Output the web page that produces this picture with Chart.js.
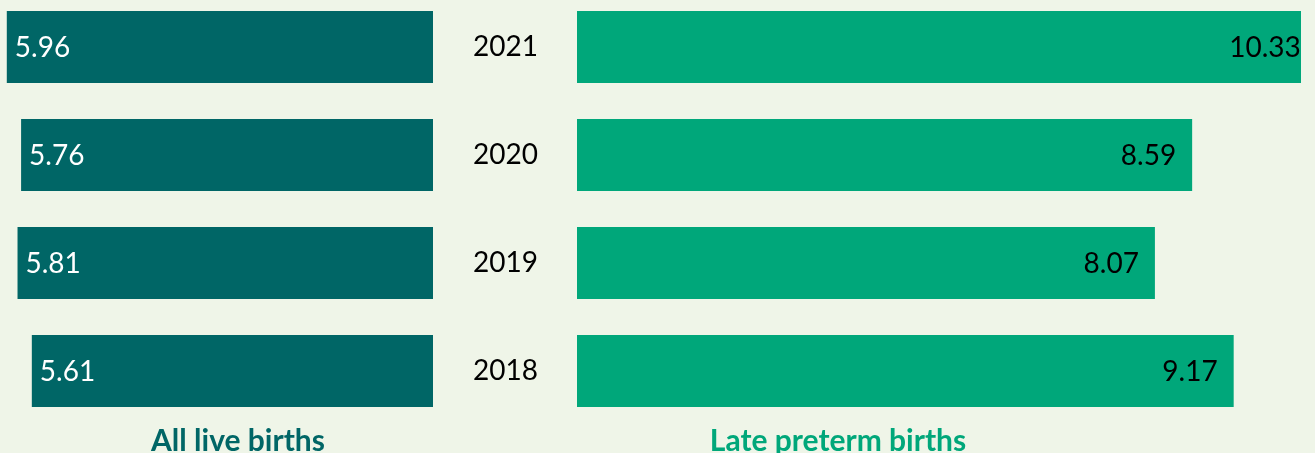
<!DOCTYPE html>
<html>
<head>
<meta charset="utf-8">
<script src="https://cdn.jsdelivr.net/npm/chart.js@4"></script>
<style>
  html, body { margin: 0; padding: 0; }
  body { width: 1315px; height: 453px; overflow: hidden; background: #EFF5E8; position: relative; font-family: Lato, sans-serif; }
  .box { position: absolute; }
  .title { position: absolute; top: 421px; width: 400px; text-align: center; font-weight: bold; font-size: 30px; line-height: 36px; }
</style>
</head>
<body>
<div class="box" style="left:0;top:-7px;width:433px;height:432px;"><canvas id="left"></canvas></div>
<div class="box" style="left:433px;top:-7px;width:882px;height:432px;"><canvas id="right"></canvas></div>
<div class="title" style="left:38px;color:#006666;">All live births</div>
<div class="title" style="left:638px;color:#00A77A;">Late preterm births</div>
<script>
// data
const years = ["2021", "2020", "2019", "2018"];
const allLive = [5.96, 5.76, 5.81, 5.61];
const latePreterm = [10.33, 8.59, 8.07, 9.17];

const darkTeal = "#006666";
const green = "#00A77A";

// simple value labels (no datalabels plugin here)
const valueLabels = {
  id: "valueLabels",
  afterDatasetsDraw(chart, args, opts) {
    const ctx = chart.ctx;
    const meta = chart.getDatasetMeta(0);
    ctx.save();
    ctx.font = "28px Lato";
    ctx.fillStyle = opts.color;
    ctx.textBaseline = "middle";
    ctx.textAlign = opts.align;
    meta.data.forEach((bar, i) => {
      const v = chart.data.datasets[0].data[i];
      ctx.fillText(v.toFixed(2), bar.x + opts.offset, bar.y + 1);
    });
    ctx.restore();
  }
};

Chart.defaults.font.family = "Lato";

new Chart(document.getElementById("left"), {
  type: "bar",
  data: {
    labels: years,
    datasets: [{ data: allLive, backgroundColor: darkTeal, barPercentage: 1, categoryPercentage: 0.667 }]
  },
  options: {
    indexAxis: "y",
    responsive: true,
    maintainAspectRatio: false,
    animation: false,
    layout: { padding: 0 },
    scales: {
      x: { display: false, reverse: true, min: 0, max: 6.055 },
      y: { display: false }
    },
    plugins: {
      legend: { display: false },
      tooltip: { enabled: false },
      valueLabels: { color: "#ffffff", align: "left", offset: 8 }
    }
  },
  plugins: [valueLabels]
});

new Chart(document.getElementById("right"), {
  type: "bar",
  data: {
    labels: years,
    datasets: [{ data: latePreterm, backgroundColor: green, barPercentage: 1, categoryPercentage: 0.667 }]
  },
  options: {
    indexAxis: "y",
    responsive: true,
    maintainAspectRatio: false,
    animation: false,
    layout: { padding: { left: 0, right: 14, top: 0, bottom: 0 } },
    scales: {
      x: { display: false, min: 0, max: 10.11 },
      y: {
        grid: { display: false },
        border: { display: false },
        ticks: { color: "#000000", font: { size: 28 }, padding: 31 },
        afterFit(scale) {
          scale.width = 144;
          // keep the tick padding from squeezing the bars vertically
          scale.paddingTop = 0;
          scale.paddingBottom = 0;
        }
      }
    },
    plugins: {
      legend: { display: false },
      tooltip: { enabled: false },
      valueLabels: { color: "#000000", align: "right", offset: -16 }
    }
  },
  plugins: [valueLabels]
});
</script>
</body>
</html>
